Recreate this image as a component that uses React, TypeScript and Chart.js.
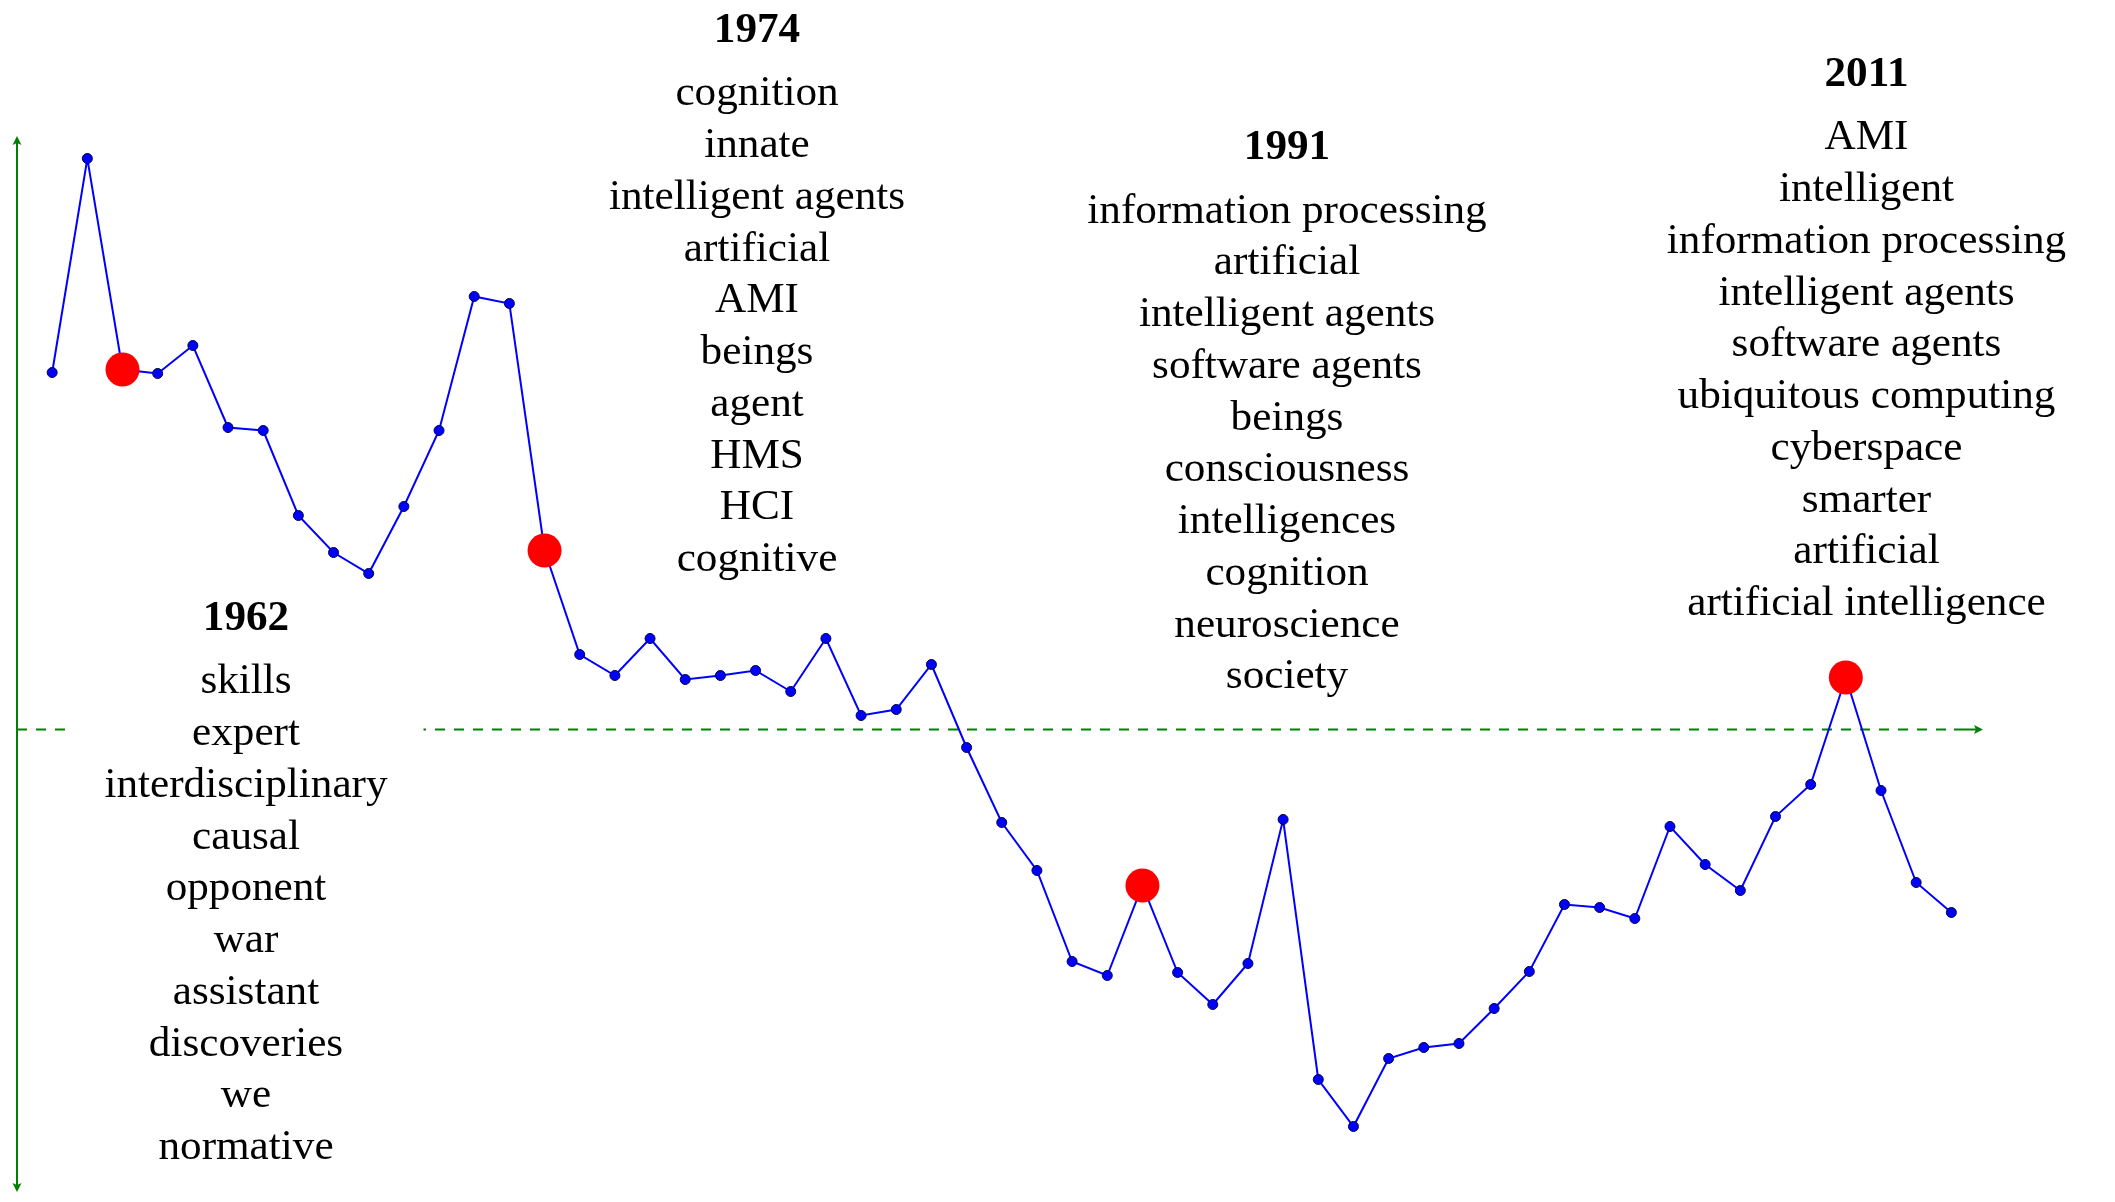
import React, { useEffect, useRef } from 'react';
import { Chart, registerables } from 'chart.js';

Chart.register(...registerables);

// ---------- data ----------
const years = [
  1960, 1961, 1962, 1963, 1964, 1965, 1966, 1967, 1968, 1969,
  1970, 1971, 1972, 1973, 1974, 1975, 1976, 1977, 1978, 1979,
  1980, 1981, 1982, 1983, 1984, 1985, 1986, 1987, 1988, 1989,
  1990, 1991, 1992, 1993, 1994, 1995, 1996, 1997, 1998, 1999,
  2000, 2001, 2002, 2003, 2004, 2005, 2006, 2007, 2008, 2009,
  2010, 2011, 2012, 2013, 2014,
];

const scores = [
  3.57, 5.71, 3.6, 3.56, 3.84, 3.02, 2.99, 2.14, 1.77, 1.56,
  2.23, 2.99, 4.33, 4.26, 1.79, 0.75, 0.54, 0.91, 0.5, 0.54,
  0.59, 0.38, 0.91, 0.14, 0.2, 0.65, -0.18, -0.93, -1.41, -2.32,
  -2.46, -1.56, -2.43, -2.75, -2.34, -0.9, -3.5, -3.97, -3.29, -3.18,
  -3.14, -2.79, -2.42, -1.75, -1.78, -1.89, -0.97, -1.35, -1.61, -0.87,
  -0.55, 0.52, -0.61, -1.53, -1.83,
];

const peakYears = [1962, 1974, 1991, 2011];

const baselineValue = 0;

const terms1962 = [
  'skills', 'expert', 'interdisciplinary', 'causal', 'opponent',
  'war', 'assistant', 'discoveries', 'we', 'normative',
];
const terms1974 = [
  'cognition', 'innate', 'intelligent agents', 'artificial', 'AMI',
  'beings', 'agent', 'HMS', 'HCI', 'cognitive',
];
const terms1991 = [
  'information processing', 'artificial', 'intelligent agents', 'software agents', 'beings',
  'consciousness', 'intelligences', 'cognition', 'neuroscience', 'society',
];
const terms2011 = [
  'AMI', 'intelligent', 'information processing', 'intelligent agents', 'software agents',
  'ubiquitous computing', 'cyberspace', 'smarter', 'artificial', 'artificial intelligence',
];

// ---------- layout / style ----------
const W = 2115;
const H = 1202;
const GREEN = '#008000';
const FONT_SIZE = 43.2;
const FONT_FAMILY = '"Liberation Serif", "Times New Roman", serif';
const LINE_GAP = 51.75;
const TITLE_GAP = 63.3;

const blockLayout = [
  { title: '1962', terms: terms1962, cx: 246, titleBase: 630 },
  { title: '1974', terms: terms1974, cx: 757, titleBase: 42 },
  { title: '1991', terms: terms1991, cx: 1287, titleBase: 159.3 },
  { title: '2011', terms: terms2011, cx: 1866.5, titleBase: 86 },
];

function arrowHead(ctx: CanvasRenderingContext2D, x: number, y: number, dir: 'up' | 'down' | 'right') {
  const len = 9;
  const half = 4.5;
  ctx.beginPath();
  if (dir === 'up') {
    ctx.moveTo(x, y);
    ctx.lineTo(x - half, y + len);
    ctx.lineTo(x, y + len - 2);
    ctx.lineTo(x + half, y + len);
  } else if (dir === 'down') {
    ctx.moveTo(x, y);
    ctx.lineTo(x - half, y - len);
    ctx.lineTo(x, y - len + 2);
    ctx.lineTo(x + half, y - len);
  } else {
    ctx.moveTo(x, y);
    ctx.lineTo(x - len, y - half);
    ctx.lineTo(x - len + 2, y);
    ctx.lineTo(x - len, y + half);
  }
  ctx.closePath();
  ctx.fill();
}

const decorPlugin = {
  id: 'decor',
  beforeDatasetsDraw(chart: any) {
    const { ctx, chartArea, scales } = chart;
    const { left, right, top, bottom } = chartArea;
    const y0 = scales.y.getPixelForValue(baselineValue);
    ctx.save();
    ctx.strokeStyle = GREEN;
    ctx.fillStyle = GREEN;
    ctx.lineWidth = 2;
    // dashed reference line
    ctx.setLineDash([10, 9]);
    ctx.beginPath();
    ctx.moveTo(left, y0);
    ctx.lineTo(right - 30, y0);
    ctx.stroke();
    ctx.setLineDash([]);
    ctx.beginPath();
    ctx.moveTo(right - 29, y0);
    ctx.lineTo(right - 6, y0);
    ctx.stroke();
    arrowHead(ctx, right, y0, 'right');
    // vertical axis
    ctx.beginPath();
    ctx.moveTo(left, top + 6);
    ctx.lineTo(left, bottom - 6);
    ctx.stroke();
    arrowHead(ctx, left, top, 'up');
    arrowHead(ctx, left, bottom, 'down');

    // white boxes behind the term lists
    ctx.font = `${FONT_SIZE}px ${FONT_FAMILY}`;
    ctx.fillStyle = '#ffffff';
    for (const b of blockLayout) {
      let maxW = 0;
      for (const t of b.terms) maxW = Math.max(maxW, ctx.measureText(t).width);
      const padX = 36;
      const yTop = b.titleBase - FONT_SIZE;
      const yBot = b.titleBase + TITLE_GAP + LINE_GAP * (b.terms.length - 1) + 14;
      ctx.fillRect(b.cx - maxW / 2 - padX, yTop, maxW + 2 * padX, yBot - yTop);
    }
    ctx.restore();
  },
  afterDatasetsDraw(chart: any) {
    const { ctx } = chart;
    ctx.save();
    ctx.fillStyle = '#000000';
    ctx.textAlign = 'center';
    ctx.textBaseline = 'alphabetic';
    for (const b of blockLayout) {
      ctx.font = `bold ${FONT_SIZE}px ${FONT_FAMILY}`;
      ctx.fillText(b.title, b.cx, b.titleBase);
      ctx.font = `${FONT_SIZE}px ${FONT_FAMILY}`;
      b.terms.forEach((t, i) => {
        ctx.fillText(t, b.cx, b.titleBase + TITLE_GAP + i * LINE_GAP);
      });
    }
    ctx.restore();
  },
};

export default function App() {
  const canvasRef = useRef<HTMLCanvasElement | null>(null);

  useEffect(() => {
    const canvas = canvasRef.current;
    if (!canvas) return;
    const seriesPoints = years.map((yr, i) => ({ x: yr, y: scores[i] }));
    const peakPoints = peakYears.map((yr) => ({ x: yr, y: scores[years.indexOf(yr)] }));

    const chart = new Chart(canvas, {
      type: 'line',
      data: {
        datasets: [
          {
            label: 'peaks',
            data: peakPoints,
            showLine: false,
            pointRadius: 17,
            pointHoverRadius: 17,
            pointBackgroundColor: '#ff0000',
            pointBorderColor: '#ff0000',
            pointBorderWidth: 0,
            order: 0,
            clip: false,
          } as any,
          {
            label: 'score',
            data: seriesPoints,
            borderColor: '#0000ff',
            borderWidth: 2,
            tension: 0,
            pointRadius: 5,
            pointHoverRadius: 5,
            pointBackgroundColor: '#0000ff',
            pointBorderColor: '#000040',
            pointBorderWidth: 1,
            order: 1,
            clip: false,
          } as any,
        ],
      },
      options: {
        responsive: false,
        animation: false,
        devicePixelRatio: 1,
        layout: { autoPadding: false, padding: { left: 17, right: 132, top: 136, bottom: 10 } },
        scales: {
          x: { type: 'linear', min: 1959, max: 2014.9, display: false },
          y: { type: 'linear', min: -4.625, max: 5.935, display: false },
        },
        plugins: {
          legend: { display: false },
          tooltip: { enabled: false },
        },
        events: [],
      } as any,
      plugins: [decorPlugin],
    });
    return () => chart.destroy();
  }, []);

  return (
    <div style={{ position: 'fixed', left: 0, top: 0, width: W, height: H, background: '#ffffff' }}>
      <canvas ref={canvasRef} width={W} height={H} style={{ width: W, height: H, display: 'block' }} />
    </div>
  );
}
